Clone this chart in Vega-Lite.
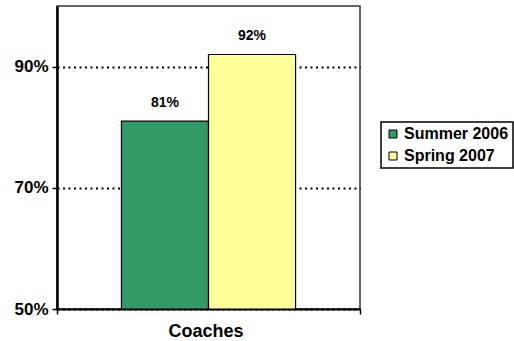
{
  "$schema": "https://vega.github.io/schema/vega-lite/v6.json",
  "autosize": "none",
  "width": 303,
  "height": 303,
  "padding": {"left": 57, "top": 6, "right": 154, "bottom": 32},
  "background": "white",
  "config": {
    "font": "Liberation Sans",
    "view": {"stroke": "#333333", "strokeWidth": 1.5},
    "legend": {"strokeWidth": 1.5}
  },
  "data": {
    "values": [
      {"group": "Coaches", "period": "Summer 2006", "rate": 0.81},
      {"group": "Coaches", "period": "Spring 2007", "rate": 0.92}
    ]
  },
  "encoding": {
    "x": {
      "field": "group",
      "type": "nominal",
      "title": null,
      "scale": {"paddingInner": 0, "paddingOuter": 0},
      "axis": {
        "labelAngle": 0,
        "labelFont": "Liberation Sans",
        "labelFontWeight": "bold",
        "labelFontSize": 18,
        "labelColor": "black",
        "labelPadding": 8,
        "labelOffset": -3,
        "tickBand": "extent",
        "tickColor": "black",
        "tickSize": 5,
        "tickWidth": 1.5,
        "domainColor": "black",
        "domainWidth": 2,
        "zindex": 1
      }
    },
    "xOffset": {
      "field": "period",
      "type": "nominal",
      "sort": ["Summer 2006", "Spring 2007"],
      "scale": {"paddingInner": 0, "paddingOuter": 0.74}
    },
    "y": {
      "field": "rate",
      "type": "quantitative",
      "title": null,
      "scale": {"domain": [0.5, 1], "zero": false, "nice": false},
      "axis": {
        "values": [0.5, 0.7, 0.9],
        "format": ".0%",
        "labelFont": "Liberation Sans",
        "labelFontWeight": "bold",
        "labelFontSize": 17,
        "labelColor": "black",
        "labelPadding": 4,
        "tickColor": "black",
        "tickSize": 5,
        "tickWidth": 1.5,
        "domainColor": "black",
        "domainWidth": 2.5,
        "grid": true,
        "gridColor": "black",
        "gridWidth": 2,
        "gridDash": [2, 3.5]
      }
    }
  },
  "layer": [
    {
      "mark": {"type": "bar", "stroke": "black", "strokeWidth": 1.2, "clip": true},
      "encoding": {
        "color": {
          "field": "period",
          "type": "nominal",
          "sort": ["Summer 2006", "Spring 2007"],
          "scale": {"domain": ["Summer 2006", "Spring 2007"], "range": ["#339966", "#FFFF99"]},
          "legend": {
            "title": null,
            "orient": "none",
            "legendX": 324,
            "legendY": 116,
            "strokeColor": "black",
            "padding": 4,
            "symbolType": "square",
            "symbolSize": 64,
            "symbolStrokeColor": "black",
            "symbolStrokeWidth": 1,
            "symbolOpacity": 1,
            "labelFont": "Liberation Sans",
            "labelFontWeight": "bold",
            "labelFontSize": 16,
            "labelColor": "black",
            "labelOffset": 3,
            "labelLimit": 200,
            "rowPadding": 6
          }
        }
      }
    },
    {
      "mark": {
        "type": "text",
        "baseline": "middle",
        "dy": -18,
        "font": "Liberation Sans",
        "fontWeight": "bold",
        "fontSize": 14,
        "color": "black"
      },
      "encoding": {
        "text": {"field": "rate", "type": "quantitative", "format": ".0%"},
        "detail": {"field": "period"}
      }
    }
  ]
}
